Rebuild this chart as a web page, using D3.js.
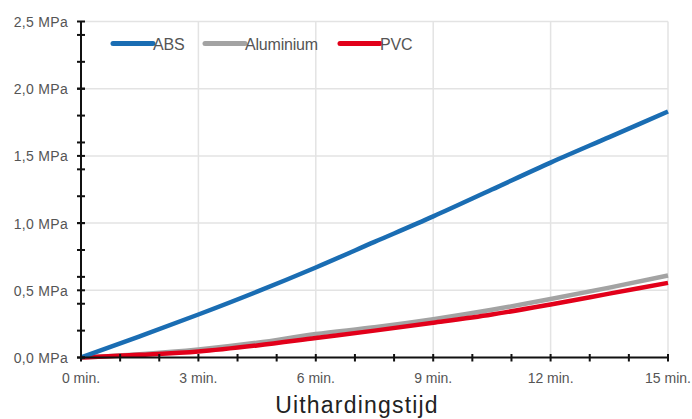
<!DOCTYPE html>
<html><head><meta charset="utf-8">
<script src="https://cdn.jsdelivr.net/npm/d3@7"></script>
<style>body{margin:0;background:#fff}svg{display:block}</style>
</head><body>
<script>
const minutes = [0, 1.5, 3, 4.5, 6, 7.5, 9, 10.5, 12, 13.5, 15];
const absValues = [0, 0.158, 0.32, 0.49, 0.67, 0.86, 1.05, 1.25, 1.45, 1.64, 1.83];
const aluValues = [0, 0.025, 0.06, 0.11, 0.175, 0.225, 0.285, 0.355, 0.435, 0.52, 0.61];
const pvcValues = [0, 0.02, 0.045, 0.09, 0.145, 0.2, 0.258, 0.32, 0.395, 0.475, 0.555];
const seriesNames = ["ABS", "Aluminium", "PVC"];
const seriesColors = ["#1a6db3", "#a3a3a3", "#e2001a"];
const xTickValues = [0, 3, 6, 9, 12, 15];
const yTickValues = [0, 0.5, 1.0, 1.5, 2.0, 2.5];
const xTitle = "Uithardingstijd";

const W = 692, H = 419;
const FONT = "Liberation Sans, Arial, sans-serif";
const svg = d3.select("body").append("svg").attr("width", W).attr("height", H);
const x = d3.scaleLinear().domain([0, 15]).range([81, 668]);
const y = d3.scaleLinear().domain([0, 2.5]).range([357.5, 21.5]);

// grid
const g = svg.append("g");
g.selectAll(".gx").data(xTickValues.slice(1)).join("line")
  .attr("x1", d => x(d)).attr("x2", d => x(d)).attr("y1", y(0)).attr("y2", y(2.5))
  .attr("stroke", "#e3e3e3").attr("stroke-width", 1.5);
g.selectAll(".gy").data(yTickValues.slice(1)).join("line")
  .attr("x1", x(0)).attr("x2", x(15)).attr("y1", d => y(d)).attr("y2", d => y(d))
  .attr("stroke", "#e3e3e3").attr("stroke-width", 1.5);

// series
const data = [absValues, aluValues, pvcValues];
const line = d3.line().x((d, i) => x(minutes[i])).y(d => y(d)).curve(d3.curveMonotoneX);
[1, 2, 0].forEach(k => {
  svg.append("path").attr("d", line(data[k])).attr("fill", "none")
    .attr("stroke", seriesColors[k]).attr("stroke-width", 4.5).attr("stroke-linecap", "butt");
});

// axes
const minorX = d3.range(0, 16, 1);
const minorY = d3.range(0, 2.51, 0.2).concat(yTickValues);
const ax = svg.append("g");
ax.append("line").attr("x1", x(0)).attr("x2", x(15)).attr("y1", y(0)).attr("y2", y(0))
  .attr("stroke", "#111").attr("stroke-width", 2);
ax.append("line").attr("x1", x(0)).attr("x2", x(0)).attr("y1", y(0)).attr("y2", y(2.5))
  .attr("stroke", "#111").attr("stroke-width", 2);
ax.selectAll(".tx").data(minorX).join("line")
  .attr("x1", d => x(d)).attr("x2", d => x(d)).attr("y1", y(0) - 3.5).attr("y2", y(0) + 4)
  .attr("stroke", "#111").attr("stroke-width", 2);
ax.selectAll(".ty").data(minorY).join("line")
  .attr("y1", d => y(d)).attr("y2", d => y(d)).attr("x1", x(0) - 4).attr("x2", x(0) + 4)
  .attr("stroke", "#111").attr("stroke-width", 2);

const fmt = d => d3.format(".1f")(d).replace(".", ",") + " MPa";
ax.selectAll(".ly").data(yTickValues).join("text")
  .attr("x", 68).attr("y", d => y(d) + 5.5).attr("text-anchor", "end")
  .attr("font-family", FONT).attr("font-size", 14)
  .attr("fill", "#555").attr("letter-spacing", 0.3).text(fmt);
ax.selectAll(".lx").data(xTickValues).join("text")
  .attr("x", d => x(d)).attr("y", 383).attr("text-anchor", "middle")
  .attr("font-family", FONT).attr("font-size", 14)
  .attr("fill", "#555").text(d => d + " min.");
svg.append("text").attr("x", 357).attr("y", 413).attr("text-anchor", "middle")
  .attr("font-family", FONT).attr("font-size", 23)
  .attr("fill", "#222").attr("letter-spacing", 1.2).text(xTitle);

// legend
const legX = [113, 205, 340];
const leg = svg.append("g");
seriesNames.forEach((n, i) => {
  leg.append("line").attr("x1", legX[i]).attr("x2", legX[i] + 40).attr("y1", 43.5).attr("y2", 43.5)
    .attr("stroke", seriesColors[i]).attr("stroke-width", 5).attr("stroke-linecap", "round");
  leg.append("text").attr("x", legX[i] + 40).attr("y", 50)
    .attr("font-family", FONT).attr("font-size", 16)
    .attr("fill", "#555").attr("letter-spacing", -0.2).text(n);
});
</script>
</body></html>
